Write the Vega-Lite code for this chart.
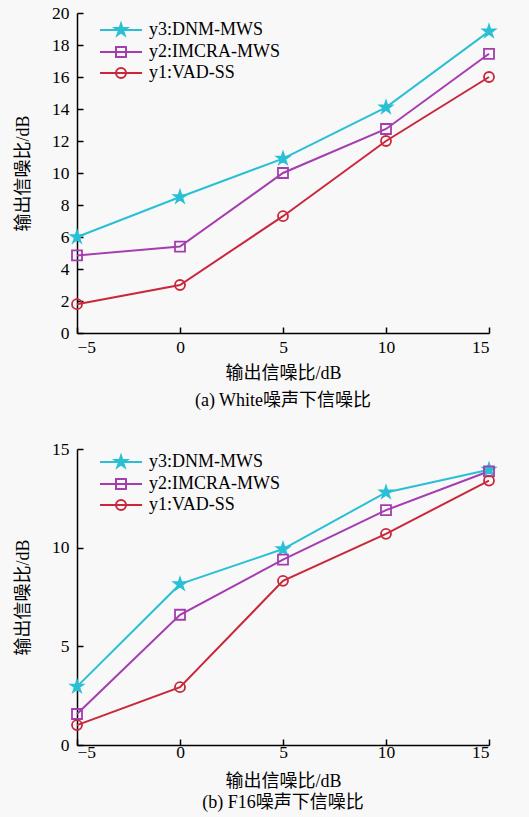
{
  "$schema": "https://vega.github.io/schema/vega-lite/v6.json",
  "background": "#f8f8f8",
  "padding": {"left": 14, "top": 4, "right": 30, "bottom": 5},
  "spacing": 30,
  "resolve": {"legend": {"color": "independent"}, "scale": {"color": "independent"}},
  "config": {
    "view": {"stroke": null},
    "font": "Liberation Serif",
    "axis": {"grid": false, "domainColor": "#000", "domainWidth": 1.5, "tickColor": "#000", "tickWidth": 1.5, "tickSize": -6,
      "labelFont": "Liberation Serif", "labelFontSize": 17.5, "labelColor": "#000",
      "titleFont": "Liberation Serif, Noto Sans CJK SC", "titleFontSize": 18, "titleFontWeight": "normal", "titleColor": "#000", "zindex": 1},
    "title": {"font": "Liberation Serif, Noto Sans CJK SC", "fontSize": 18, "fontWeight": "normal", "color": "#000"},
    "legend": {
      "orient": "none", "legendX": 35, "title": null, "padding": 0,
      "labelFont": "Liberation Serif", "labelFontSize": 18, "labelColor": "#000",
      "symbolSize": 100, "labelOffset": 19, "rowPadding": 3
    }
  },
  "vconcat": [
    {
      "width": 412, "height": 320,
      "title": {"text": "(a) White噪声下信噪比", "orient": "bottom", "anchor": "middle", "offset": 9},
      "data": {"values": [
        {"series": "y3:DNM-MWS", "snr": -5, "out": 6.0},
        {"series": "y3:DNM-MWS", "snr": 0, "out": 8.5},
        {"series": "y3:DNM-MWS", "snr": 5, "out": 10.9},
        {"series": "y3:DNM-MWS", "snr": 10, "out": 14.1},
        {"series": "y3:DNM-MWS", "snr": 15, "out": 18.85},
        {"series": "y2:IMCRA-MWS", "snr": -5, "out": 4.85},
        {"series": "y2:IMCRA-MWS", "snr": 0, "out": 5.4},
        {"series": "y2:IMCRA-MWS", "snr": 5, "out": 10.0},
        {"series": "y2:IMCRA-MWS", "snr": 10, "out": 12.75},
        {"series": "y2:IMCRA-MWS", "snr": 15, "out": 17.45},
        {"series": "y1:VAD-SS", "snr": -5, "out": 1.8},
        {"series": "y1:VAD-SS", "snr": 0, "out": 3.0},
        {"series": "y1:VAD-SS", "snr": 5, "out": 7.3},
        {"series": "y1:VAD-SS", "snr": 10, "out": 12.0},
        {"series": "y1:VAD-SS", "snr": 15, "out": 16.0}
      ]},
      "encoding": {
        "x": {"field": "snr", "type": "quantitative", "scale": {"domain": [-5, 15], "nice": false},
          "axis": {"values": [-5, 0, 5, 10, 15], "title": "输出信噪比/dB", "labelPadding": 11, "titlePadding": 9}},
        "y": {"field": "out", "type": "quantitative", "scale": {"domain": [0, 20], "nice": false},
          "axis": {"values": [0, 2, 4, 6, 8, 10, 12, 14, 16, 18, 20], "title": "输出信噪比/dB", "labelPadding": 14, "titlePadding": 19}},
        "color": {"field": "series", "type": "nominal",
          "scale": {"domain": ["y3:DNM-MWS", "y2:IMCRA-MWS", "y1:VAD-SS"], "range": ["#29c0d5", "#a53cb0", "#c9283b"]},
          "legend": {"legendY": 8,
            "encode": {"symbols": {"update": {
              "shape": {"signal": "datum.value==='y3:DNM-MWS' ? 'M-4.2,0H4.2M0,-1.25L0.28,-0.39L1.19,-0.39L0.45,0.15L0.74,1.01L0,0.48L-0.74,1.01L-0.45,0.15L-1.19,-0.39L-0.28,-0.39Z' : datum.value==='y2:IMCRA-MWS' ? 'M-4.2,0H4.2M-1,-1H1V1H-1Z' : 'M-4.2,0H4.2M1,0A1,1 0 1,1 -1,0A1,1 0 1,1 1,0Z'"},
              "stroke": {"signal": "datum.value==='y3:DNM-MWS' ? '#29c0d5' : datum.value==='y2:IMCRA-MWS' ? '#a53cb0' : '#c9283b'"},
              "fill": {"signal": "datum.value==='y3:DNM-MWS' ? '#29c0d5' : 'transparent'"},
              "strokeWidth": {"value": 2},
              "size": {"value": 100},
              "opacity": {"value": 1}
            }}}}}
      },
      "layer": [
        {"mark": {"type": "line", "strokeWidth": 2}},
        {"mark": {"type": "point", "filled": true, "strokeWidth": 1.8, "size": 100, "opacity": 1},
          "encoding": {
            "shape": {"field": "series", "type": "nominal", "legend": null,
              "scale": {"domain": ["y3:DNM-MWS", "y2:IMCRA-MWS", "y1:VAD-SS"], "range": ["M0,-1.25L0.28,-0.39L1.19,-0.39L0.45,0.15L0.74,1.01L0,0.48L-0.74,1.01L-0.45,0.15L-1.19,-0.39L-0.28,-0.39Z", "square", "circle"]}},
            "stroke": {"field": "series", "type": "nominal", "legend": null,
              "scale": {"domain": ["y3:DNM-MWS", "y2:IMCRA-MWS", "y1:VAD-SS"], "range": ["#29c0d5", "#a53cb0", "#c9283b"]}},
            "fill": {"condition": {"test": "datum.series === 'y3:DNM-MWS'", "value": "#29c0d5"}, "value": "transparent"}
          }}
      ]
    },
    {
      "width": 412, "height": 296,
      "title": {"text": "(b) F16噪声下信噪比", "orient": "bottom", "anchor": "middle", "offset": 3},
      "data": {"values": [
        {"series": "y3:DNM-MWS", "snr": -5, "out": 2.96},
        {"series": "y3:DNM-MWS", "snr": 0, "out": 8.15},
        {"series": "y3:DNM-MWS", "snr": 5, "out": 9.93},
        {"series": "y3:DNM-MWS", "snr": 10, "out": 12.8},
        {"series": "y3:DNM-MWS", "snr": 15, "out": 13.95},
        {"series": "y2:IMCRA-MWS", "snr": -5, "out": 1.57},
        {"series": "y2:IMCRA-MWS", "snr": 0, "out": 6.6},
        {"series": "y2:IMCRA-MWS", "snr": 5, "out": 9.39},
        {"series": "y2:IMCRA-MWS", "snr": 10, "out": 11.9},
        {"series": "y2:IMCRA-MWS", "snr": 15, "out": 13.87},
        {"series": "y1:VAD-SS", "snr": -5, "out": 1.01},
        {"series": "y1:VAD-SS", "snr": 0, "out": 2.93},
        {"series": "y1:VAD-SS", "snr": 5, "out": 8.32},
        {"series": "y1:VAD-SS", "snr": 10, "out": 10.7},
        {"series": "y1:VAD-SS", "snr": 15, "out": 13.4}
      ]},
      "encoding": {
        "x": {"field": "snr", "type": "quantitative", "scale": {"domain": [-5, 15], "nice": false},
          "axis": {"values": [-5, 0, 5, 10, 15], "title": "输出信噪比/dB", "labelPadding": 4, "titlePadding": 12}},
        "y": {"field": "out", "type": "quantitative", "scale": {"domain": [0, 15], "nice": false},
          "axis": {"values": [0, 5, 10, 15], "title": "输出信噪比/dB", "labelPadding": 14, "titlePadding": 19}},
        "color": {"field": "series", "type": "nominal",
          "scale": {"domain": ["y3:DNM-MWS", "y2:IMCRA-MWS", "y1:VAD-SS"], "range": ["#29c0d5", "#a53cb0", "#c9283b"]},
          "legend": {"legendY": 4,
            "encode": {"symbols": {"update": {
              "shape": {"signal": "datum.value==='y3:DNM-MWS' ? 'M-4.2,0H4.2M0,-1.25L0.28,-0.39L1.19,-0.39L0.45,0.15L0.74,1.01L0,0.48L-0.74,1.01L-0.45,0.15L-1.19,-0.39L-0.28,-0.39Z' : datum.value==='y2:IMCRA-MWS' ? 'M-4.2,0H4.2M-1,-1H1V1H-1Z' : 'M-4.2,0H4.2M1,0A1,1 0 1,1 -1,0A1,1 0 1,1 1,0Z'"},
              "stroke": {"signal": "datum.value==='y3:DNM-MWS' ? '#29c0d5' : datum.value==='y2:IMCRA-MWS' ? '#a53cb0' : '#c9283b'"},
              "fill": {"signal": "datum.value==='y3:DNM-MWS' ? '#29c0d5' : 'transparent'"},
              "strokeWidth": {"value": 2},
              "size": {"value": 100},
              "opacity": {"value": 1}
            }}}}}
      },
      "layer": [
        {"mark": {"type": "line", "strokeWidth": 2}},
        {"mark": {"type": "point", "filled": true, "strokeWidth": 1.8, "size": 100, "opacity": 1},
          "encoding": {
            "shape": {"field": "series", "type": "nominal", "legend": null,
              "scale": {"domain": ["y3:DNM-MWS", "y2:IMCRA-MWS", "y1:VAD-SS"], "range": ["M0,-1.25L0.28,-0.39L1.19,-0.39L0.45,0.15L0.74,1.01L0,0.48L-0.74,1.01L-0.45,0.15L-1.19,-0.39L-0.28,-0.39Z", "square", "circle"]}},
            "stroke": {"field": "series", "type": "nominal", "legend": null,
              "scale": {"domain": ["y3:DNM-MWS", "y2:IMCRA-MWS", "y1:VAD-SS"], "range": ["#29c0d5", "#a53cb0", "#c9283b"]}},
            "fill": {"condition": {"test": "datum.series === 'y3:DNM-MWS'", "value": "#29c0d5"}, "value": "transparent"}
          }}
      ]
    }
  ]
}
